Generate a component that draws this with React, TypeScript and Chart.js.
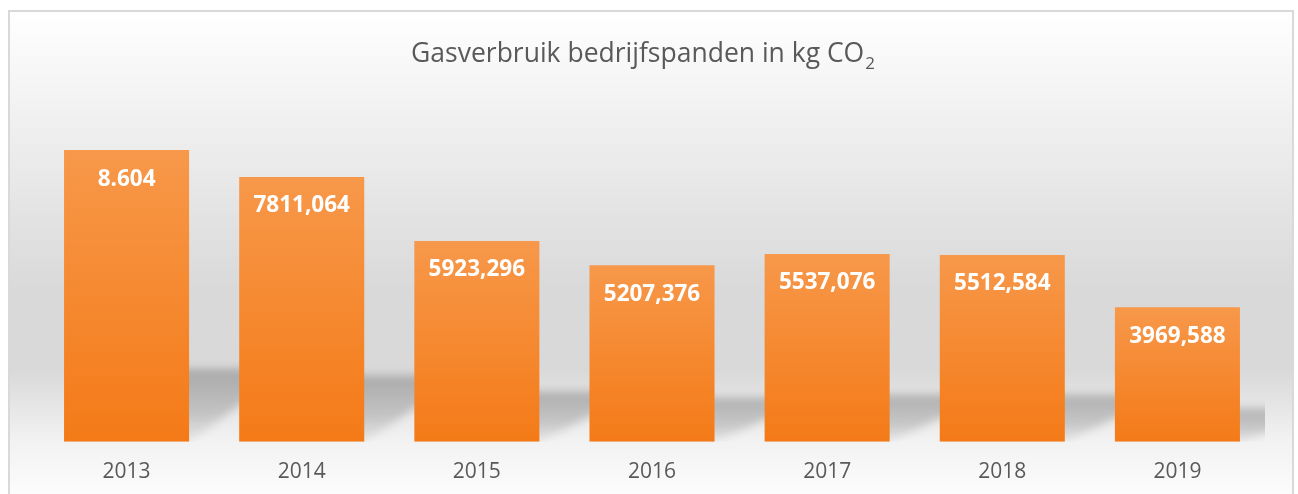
import React, { useEffect, useRef } from 'react';
import { Chart, registerables } from 'chart.js';

Chart.register(...registerables);

const categories = ['2013', '2014', '2015', '2016', '2017', '2018', '2019'];
const values = [8604, 7811.064, 5923.296, 5207.376, 5537.076, 5512.584, 3969.588];
const valueLabels = ['8.604', '7811,064', '5923,296', '5207,376', '5537,076', '5512,584', '3969,588'];
const titleMain = 'Gasverbruik bedrijfspanden in kg CO';
const titleSub = '2';
const yMax = 10000;

const FONT = '"Open Sans", "Noto Sans", sans-serif';

const frameBackground = {
  id: 'frameBackground',
  beforeDraw(chart: any) {
    const { ctx, width, height } = chart;
    ctx.save();
    ctx.fillStyle = '#ffffff';
    ctx.fillRect(0, 0, width, height);
    const g = ctx.createLinearGradient(0, 10, 0, height);
    const span = height - 10;
    g.addColorStop(0, '#ffffff');
    g.addColorStop((290 - 10) / span, '#d9d9d9');
    g.addColorStop((370 - 10) / span, '#d9d9d9');
    g.addColorStop((441 - 10) / span, '#f2f2f2');
    g.addColorStop(1, '#fcfcfc');
    ctx.fillStyle = g;
    ctx.fillRect(9, 11, 1284, height);
    ctx.strokeStyle = '#d9d9d9';
    ctx.lineWidth = 2;
    ctx.strokeRect(9, 11, 1284, height + 10);

    // title
    ctx.fillStyle = '#595959';
    ctx.textBaseline = 'alphabetic';
    ctx.font = `400 26.5px ${FONT}`;
    const w1 = ctx.measureText(titleMain).width;
    ctx.font = `400 17px ${FONT}`;
    const w2 = ctx.measureText(titleSub).width;
    const start = 643 - (w1 + w2 + 1) / 2;
    ctx.font = `400 26.5px ${FONT}`;
    ctx.textAlign = 'left';
    ctx.fillText(titleMain, start, 62);
    ctx.font = `400 17px ${FONT}`;
    ctx.fillText(titleSub, start + w1 + 1, 69);
    ctx.restore();
  },
};

const barShadows = {
  id: 'barShadows',
  beforeDatasetsDraw(chart: any) {
    const { ctx, chartArea } = chart;
    const meta = chart.getDatasetMeta(0);
    ctx.save();
    ctx.beginPath();
    ctx.rect(chartArea.left, chartArea.top, chartArea.right - chartArea.left, chartArea.bottom - chartArea.top);
    ctx.clip();
    ctx.filter = 'blur(4px)';
    meta.data.forEach((bar: any) => {
      const { x, y, base, width } = bar.getProps(['x', 'y', 'base', 'width'], true);
      const h = base - y;
      const s = h * 0.25;
      const d = 100;
      const x0 = x - width / 2;
      const x1 = x + width / 2;
      const g = ctx.createLinearGradient(0, base - s, 0, base);
      g.addColorStop(0, 'rgba(0,0,0,0.22)');
      g.addColorStop(0.6, 'rgba(0,0,0,0.16)');
      g.addColorStop(1, 'rgba(0,0,0,0.04)');
      ctx.fillStyle = g;
      ctx.beginPath();
      ctx.moveTo(x0, base);
      ctx.lineTo(x1, base);
      ctx.lineTo(x1 + d, base - s);
      ctx.lineTo(x0 + d, base - s);
      ctx.closePath();
      ctx.fill();
    });
    ctx.restore();
  },
};

const valueLabelsPlugin = {
  id: 'valueLabels',
  afterDatasetsDraw(chart: any) {
    const { ctx } = chart;
    const meta = chart.getDatasetMeta(0);
    ctx.save();
    ctx.fillStyle = '#ffffff';
    ctx.font = `700 22.5px ${FONT}`;
    ctx.textAlign = 'center';
    ctx.textBaseline = 'middle';
    meta.data.forEach((bar: any, i: number) => {
      const { x, y } = bar.getProps(['x', 'y'], true);
      ctx.fillText(valueLabels[i], x, y + 29);
    });
    ctx.restore();
  },
};

export default function App() {
  const ref = useRef<HTMLCanvasElement>(null);
  useEffect(() => {
    if (!ref.current) return;
    const chart = new Chart(ref.current, {
      type: 'bar',
      data: {
        labels: categories,
        datasets: [
          {
            label: 'Gasverbruik',
            data: values,
            backgroundColor: (c: any) => {
              const ch = c.chart;
              if (!ch.chartArea || c.type !== 'data') return '#f68a30';
              const yS = ch.scales.y;
              const top = yS.getPixelForValue(values[c.dataIndex]);
              const base = yS.getPixelForValue(0);
              const g = ch.ctx.createLinearGradient(0, top, 0, base);
              g.addColorStop(0, '#f7984a');
              g.addColorStop(1, '#f47a17');
              return g;
            },
            borderWidth: 0,
            barPercentage: 0.714,
            categoryPercentage: 1,
          },
        ],
      },
      options: {
        responsive: false,
        animation: false,
        layout: { padding: { left: 39, right: 33, top: 102.8, bottom: -9 } },
        plugins: {
          legend: { display: false },
          title: { display: false },
          tooltip: { enabled: false },
        },
        scales: {
          x: {
            grid: { display: false, drawTicks: false },
            border: { display: false },
            ticks: {
              color: '#595959',
              font: { family: FONT, size: 21 },
              padding: 18,
            },
          },
          y: {
            display: false,
            min: 0,
            max: yMax,
          },
        },
      },
      plugins: [frameBackground, barShadows, valueLabelsPlugin],
    });
    return () => chart.destroy();
  }, []);
  return (
    <div style={{ position: 'fixed', left: 0, top: 0, width: 1298, height: 494 }}>
      <canvas ref={ref} width={1298} height={494} style={{ display: 'block' }} />
    </div>
  );
}
